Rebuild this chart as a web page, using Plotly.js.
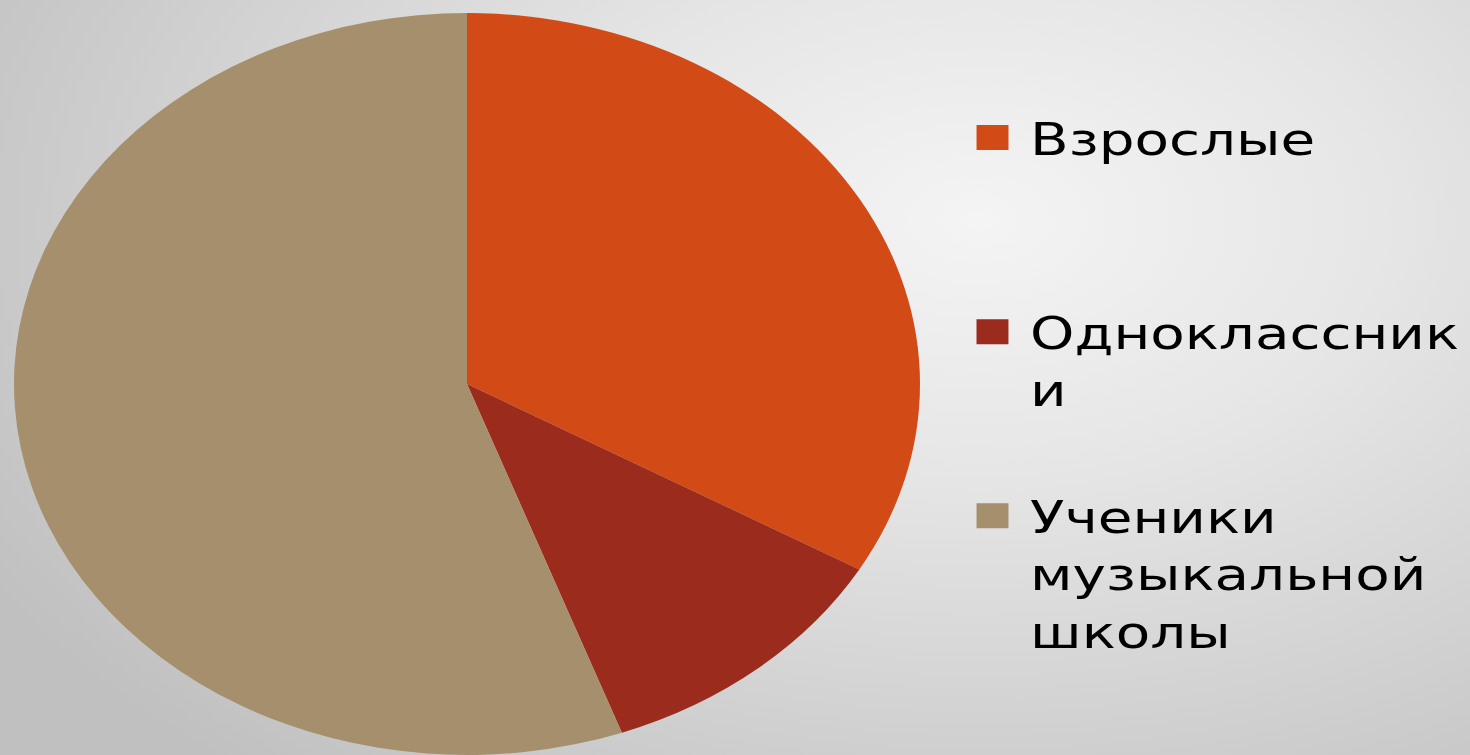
<!DOCTYPE html>
<html>
<head>
<meta charset="utf-8">
<script src="https://cdn.plot.ly/plotly-3.0.1.min.js"></script>
<style>
  html, body { margin: 0; padding: 0; width: 1470px; height: 755px; overflow: hidden; }
  body {
    background: radial-gradient(ellipse 1150px 720px at 980px 220px, #f4f4f4 0%, #e6e6e6 35%, #c0c0c0 100%);
    position: relative;
  }
  #legendBox { position: absolute; left: 0; top: 0; transform-origin: 0 0; z-index: 1; }
  #pieBox { position: absolute; left: 96px; top: 13px; width: 742px; height: 742px;
            transform: scaleX(1.221); transform-origin: 50% 50%; z-index: 2; }
</style>
</head>
<body>
<div id="legendBox"></div>
<div id="pieBox"></div>
<script>
// ---- data ----
const labels = ['Взрослые', 'Одноклассники', 'Ученики музыкальной школы'];
const legendLabels = ['Взрослые', 'Одноклассник<br>и', 'Ученики<br>музыкальной<br>школы'];
const values = [6, 2, 10];
const colors = ['#D24A16', '#9B2B1D', '#A58F6D'];

// ---- main pie (stretched horizontally like the original slide) ----
Plotly.newPlot('pieBox', [{
  type: 'pie',
  labels: labels,
  values: values,
  sort: false,
  direction: 'clockwise',
  rotation: 0,
  textinfo: 'none',
  hoverinfo: 'label+percent',
  marker: { colors: colors, line: { width: 0 } },
  showlegend: false
}], {
  width: 742, height: 742,
  margin: { l: 0, r: 0, t: 0, b: 0 },
  paper_bgcolor: 'rgba(0,0,0,0)',
  plot_bgcolor: 'rgba(0,0,0,0)',
  showlegend: false
}, { displayModeBar: false, staticPlot: true });

// ---- legends (separate scaled plot so symbols can be large) ----
const sx = 1.88, sy = 1.47;
const LW = 1470 / sx, LH = 755 / sy;
const box = document.getElementById('legendBox');
box.style.width = LW + 'px';
box.style.height = LH + 'px';
box.style.transform = 'scale(' + sx + ',' + sy + ')';

const legendIds = ['legend', 'legend2', 'legend3'];
const textTopFinal = [111, 305, 489];
const legendLeft = 1030 / sx - 40;

const traces = labels.map(function (lab, i) {
  return {
    type: 'pie',
    labels: [legendLabels[i]],
    values: [values[i]],
    sort: false,
    textinfo: 'none',
    hoverinfo: 'skip',
    marker: { colors: [colors[i]], line: { width: 5, color: [colors[i]] } },
    domain: { x: [0.3, 0.301], y: [0.5, 0.501] },
    legend: legendIds[i],
    showlegend: true
  };
});

const layout = {
  width: LW, height: LH,
  margin: { l: 0, r: 0, t: 0, b: 0 },
  paper_bgcolor: 'rgba(0,0,0,0)',
  plot_bgcolor: 'rgba(0,0,0,0)',
  font: { family: 'DejaVu Sans, Verdana, sans-serif', color: '#000000', size: 30 }
};
legendIds.forEach(function (id, i) {
  layout[id] = {
    x: legendLeft / LW,
    xanchor: 'left',
    y: 1 - (textTopFinal[i] / sy - 8) / LH,
    yanchor: 'top',
    valign: 'top',
    bgcolor: 'rgba(0,0,0,0)',
    borderwidth: 0,
    font: { family: 'DejaVu Sans, Verdana, sans-serif', color: '#000000', size: 30 }
  };
});

Plotly.newPlot('legendBox', traces, layout, { displayModeBar: false, staticPlot: true });
</script>
</body>
</html>
